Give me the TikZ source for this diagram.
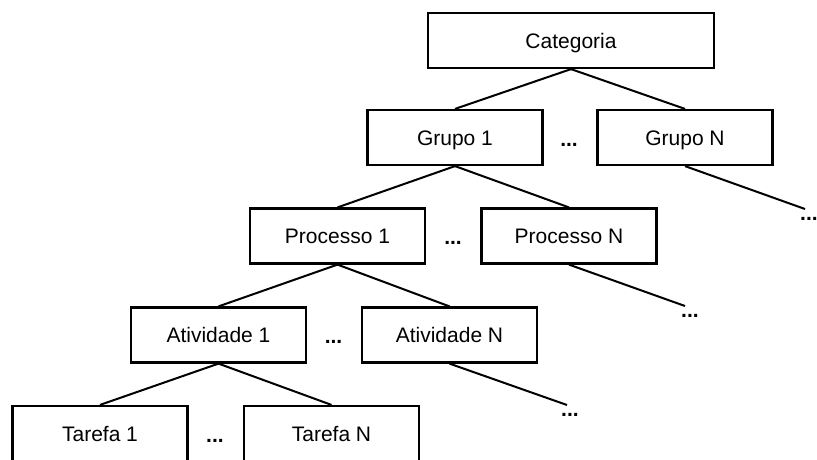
\documentclass[tikz,border=0pt]{standalone}
\usepackage{fontspec}
\setmainfont{Liberation Sans}
\begin{document}
\begin{tikzpicture}[x=1pt, y=-1pt,
  box/.style={draw, line width=2.2pt, fill=white, inner sep=0pt,
    minimum width=175pt, minimum height=55pt,
    text height=15.5pt, text depth=0pt,
    font=\fontsize{21}{24}\selectfont},
  link/.style={line width=2pt},
  gap/.style={inner sep=0pt, anchor=base, font=\fontsize{21}{24}\selectfont\bfseries},
  more/.style={inner sep=0pt, anchor=base west, font=\fontsize{21}{24}\selectfont\bfseries}]
\useasboundingbox (0,0) rectangle (817,459);

% hierarchy boxes
\node[box, minimum width=286pt] (cat) at (571,40.5) {Categoria};
\node[box] (g1) at (455,137.5) {Grupo 1};
\node[box] (gn) at (685,137.5) {Grupo N};
\node[box] (p1) at (337.5,236) {Processo 1};
\node[box] (pn) at (569,236) {Processo N};
\node[box] (a1) at (218.5,335) {Atividade 1};
\node[box] (an) at (449.5,335) {Atividade N};
\node[box] (t1) at (100,433.5) {Tarefa 1};
\node[box] (tn) at (331.5,433.5) {Tarefa N};

% ellipses between siblings
\node[gap] (dg) at (569,146) {...};
\node[gap] (dp) at (453,244.5) {...};
\node[gap] (da) at (333.5,343.5) {...};
\node[gap] (dt) at (215,442) {...};

% open branches
\coordinate (eg) at (805,209);
\coordinate (ep) at (685,306);
\coordinate (ea) at (567,405);
\node[more] (mg) at (800,220) {...};
\node[more] (mp) at (681,317) {...};
\node[more] (ma) at (561,416) {...};

% connectors
\draw[link] (cat.south) -- (g1.north);
\draw[link] (cat.south) -- (gn.north);
\draw[link] (g1.south) -- (p1.north);
\draw[link] (g1.south) -- (pn.north);
\draw[link] (p1.south) -- (a1.north);
\draw[link] (p1.south) -- (an.north);
\draw[link] (a1.south) -- (t1.north);
\draw[link] (a1.south) -- (tn.north);
\draw[link] (gn.south) -- (eg);
\draw[link] (pn.south) -- (ep);
\draw[link] (an.south) -- (ea);
\end{tikzpicture}
\end{document}
